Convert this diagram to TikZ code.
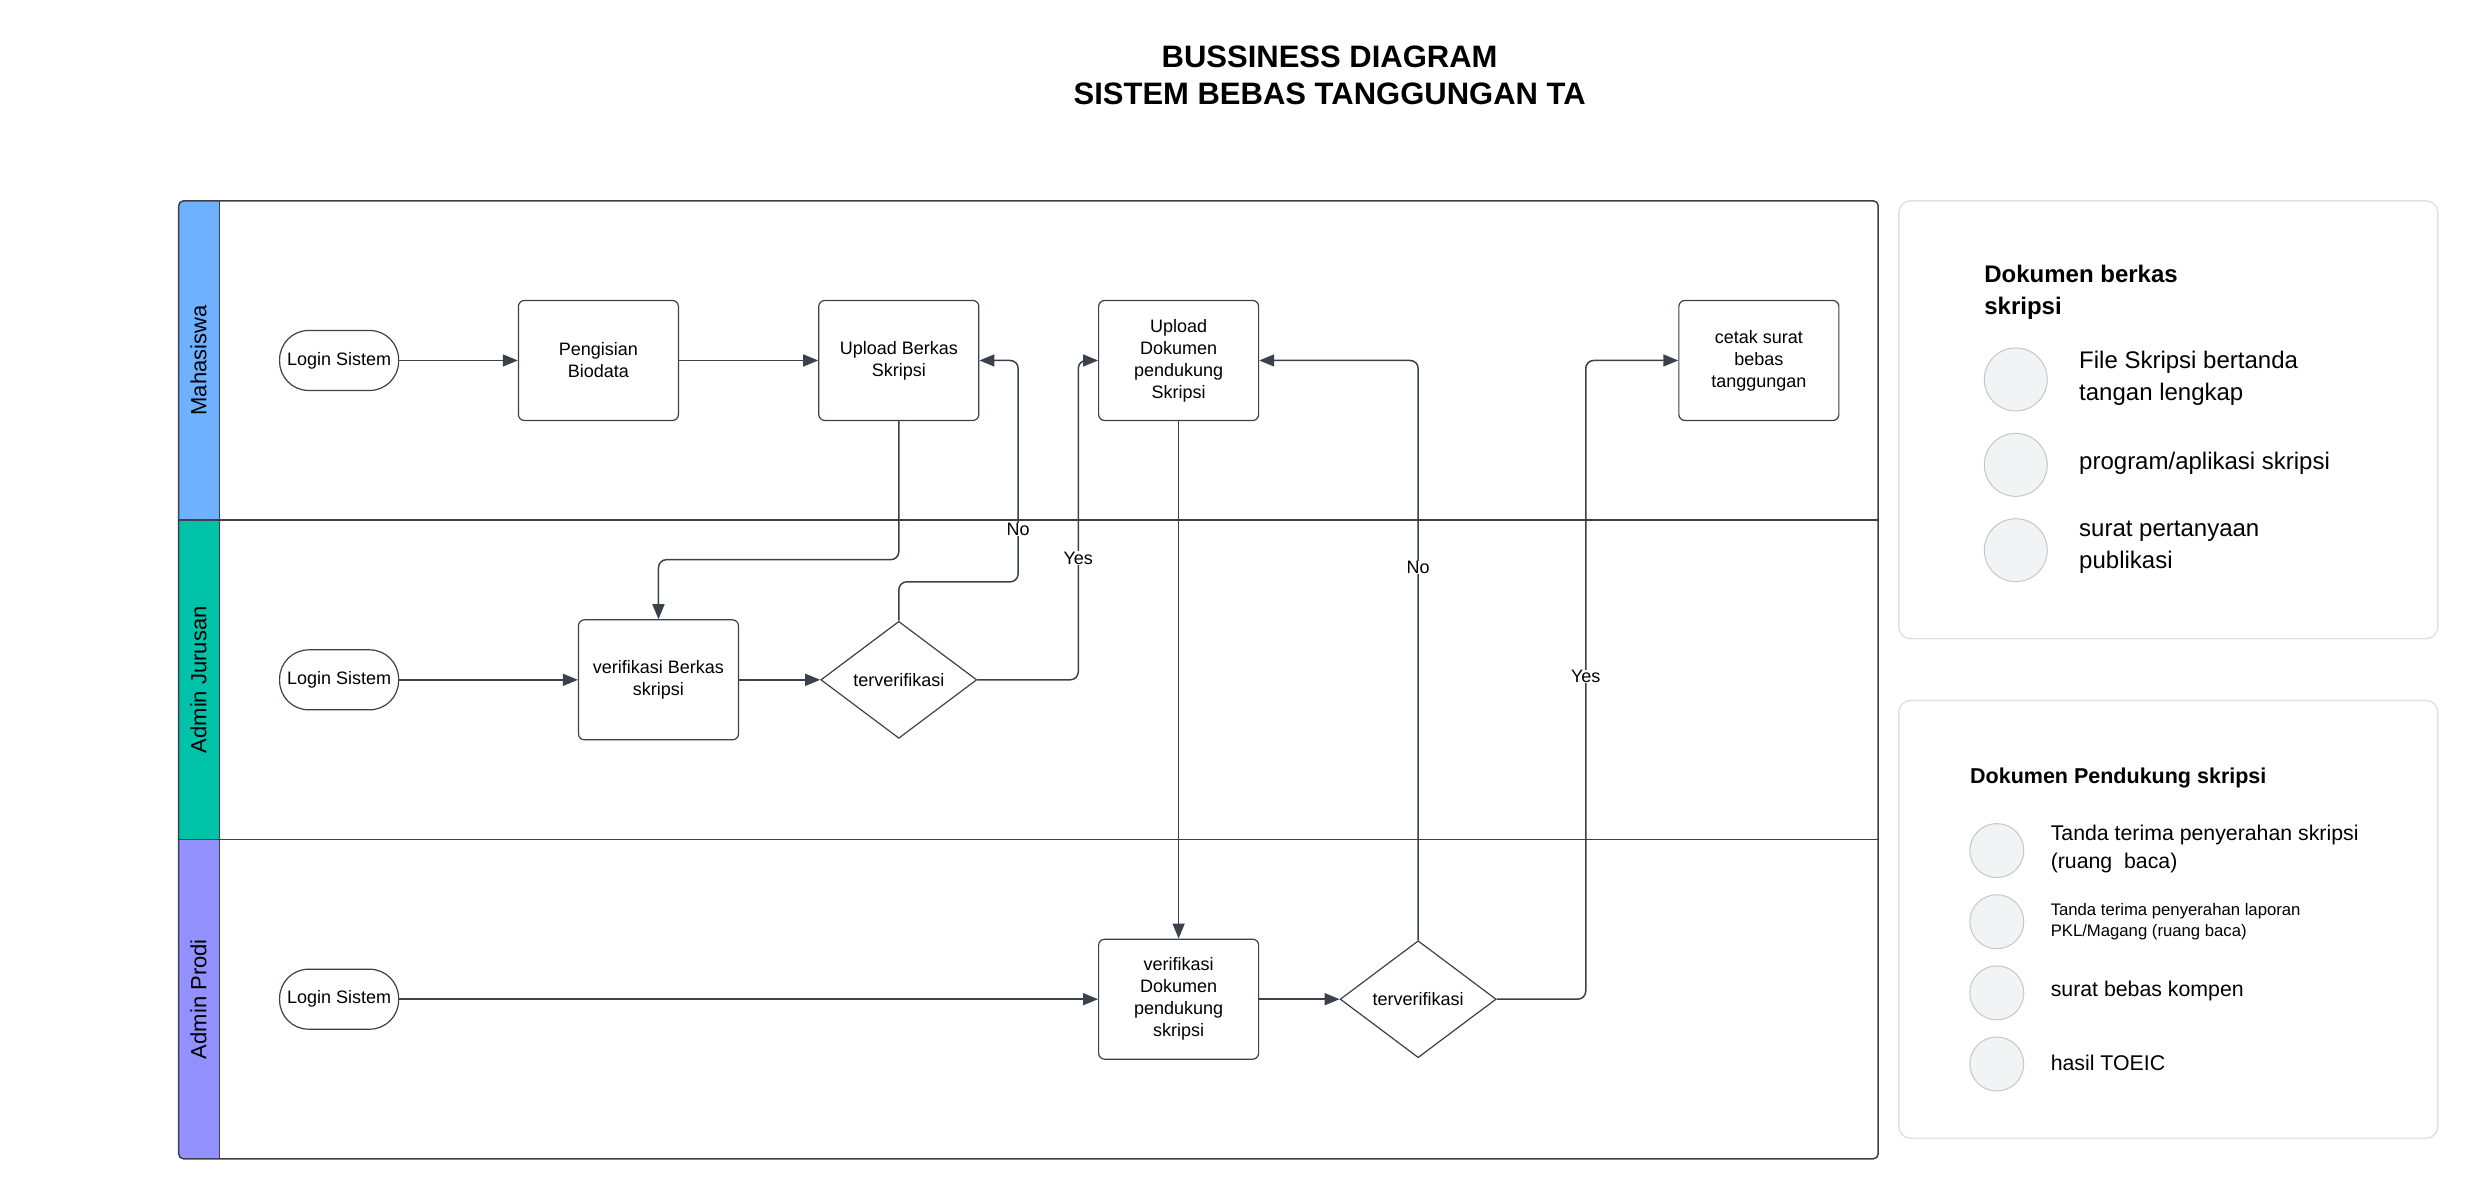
\documentclass[tikz,border=0pt]{standalone}
\usepackage{fontspec}
\setmainfont{Liberation Sans}
\usetikzlibrary{shapes.geometric,arrows.meta}

\definecolor{trait}{HTML}{3A414A}
\definecolor{bleu}{HTML}{6DB1FF}
\definecolor{vert}{HTML}{00C2A8}
\definecolor{violet}{HTML}{9391FF}
\definecolor{bord}{HTML}{DFE1E6}
\definecolor{rond}{HTML}{F2F3F5}
\definecolor{rondbord}{HTML}{C4C6CA}

\begin{document}
\begin{tikzpicture}[x=1.581pt, y=-1.581pt]
\tikzset{boite/.style={draw=trait, line width=1.2pt, rounded corners=6pt, minimum width=160pt, minimum height=120pt, align=center, font=\fontsize{18}{22}\selectfont},
  debut/.style={draw=trait, line width=1.2pt, rounded corners=29pt, minimum width=119pt, minimum height=60pt, font=\fontsize{18}{22}\selectfont},
  losange/.style={draw=trait, line width=1.2pt, diamond, aspect=1.34, inner sep=0pt, minimum width=156pt, minimum height=117pt, font=\fontsize{18}{22}\selectfont},
  fleche/.style={draw=trait, line width=1.5pt, rounded corners=8pt, -{Triangle[length=15pt, width=12pt]}},
  etiq/.style={fill=white, inner sep=0.5pt, font=\fontsize{18}{22}\selectfont},
  couloir/.style={rotate=90, font=\fontsize{22}{26}\selectfont},
  puce/.style={circle, draw=rondbord, fill=rond, line width=1pt},
  legende/.style={anchor=west, align=left, inner sep=0pt}}
\useasboundingbox (0,0) rectangle (1568,759);

% titre
\node[align=center, font=\bfseries\fontsize{31}{36.5}\selectfont] (titre) at (841,47.5) {BUSSINESS DIAGRAM\\SISTEM BEBAS TANGGUNGAN TA};

% couloirs
\begin{scope}
\clip[rounded corners=5pt] (113,127) rectangle (1188,733);
\fill[bleu] (113,127) rectangle (139,329);
\fill[vert] (113,329) rectangle (139,531);
\fill[violet] (113,531) rectangle (139,733);
\end{scope}
\draw[trait, line width=1.5pt, rounded corners=5pt] (113,127) rectangle (1188,733);
\draw[trait, line width=1.5pt] (113,329) -- (1188,329);
\draw[trait, line width=1.5pt] (113,531) -- (1188,531);
\draw[trait, line width=1.2pt] (139,127) -- (139,733);
\node[couloir] (C1) at (125.5,228) {Mahasiswa};
\node[couloir] (C2) at (125.5,430) {Admin Jurusan};
\node[couloir] (C3) at (125.5,632) {Admin Prodi};

% Mahasiswa
\node[debut] (M1) at (214.5,228) {Login Sistem};
\node[boite] (M2) at (378.5,228) {Pengisian\\Biodata};
\node[boite] (M3) at (568.5,228) {Upload Berkas\\Skripsi};
\node[boite] (M4) at (745.5,228) {Upload\\Dokumen\\pendukung\\Skripsi};
\node[boite] (M5) at (1112.5,228) {cetak surat\\bebas\\tanggungan};

% Admin Jurusan
\node[debut] (J1) at (214.5,430) {Login Sistem};
\node[boite] (J2) at (416.5,430) {verifikasi Berkas\\skripsi};
\node[losange] (J3) at (568.5,430) {terverifikasi};

% Admin Prodi
\node[debut] (P1) at (214.5,632) {Login Sistem};
\node[boite] (P2) at (745.5,632) {verifikasi\\Dokumen\\pendukung\\skripsi};
\node[losange] (P3) at (897,632) {terverifikasi};

% fleches
\draw[fleche] (M1) -- (M2);
\draw[fleche] (M2) -- (M3);
\draw[fleche] (M3.south) -- (M3.south |- 0,354) -| (J2.north);
\draw[fleche] (J1) -- (J2);
\draw[fleche] (J2) -- (J3);
\draw[fleche] (J3.north) -- (J3.north |- 0,368) -| (644,228) -- (M3.east);
\draw[fleche] (J3.east) -| (682,228) -- (M4.west);
\draw[fleche] (M4.south) -- (P2.north);
\draw[fleche] (P1) -- (P2);
\draw[fleche] (P2) -- (P3);
\draw[fleche] (P3.north) |- (M4.east);
\draw[fleche] (P3.east) -| (1003,228) -- (M5.west);
\node[etiq] (no1) at (644,335) {No};
\node[etiq] (yes1) at (682,353) {Yes};
\node[etiq] (no2) at (897,359) {No};
\node[etiq] (yes2) at (1003,428) {Yes};

% Dokumen berkas skripsi
\draw[bord, line width=1.5pt, rounded corners=12pt] (1201,127) rectangle (1542,404);
\node[legende, font=\bfseries\fontsize{24}{32}\selectfont] (D1) at (1255,185) {Dokumen berkas\\skripsi};
\node[puce, minimum size=63pt] (R1) at (1275,240) {};
\node[puce, minimum size=63pt] (R2) at (1275,294) {};
\node[puce, minimum size=63pt] (R3) at (1275,348) {};
\node[legende, font=\fontsize{24}{32}\selectfont] (T1) at (1315,239) {File Skripsi bertanda\\tangan lengkap};
\node[legende, font=\fontsize{24}{32}\selectfont] (T2) at (1315,293) {program/aplikasi skripsi};
\node[legende, font=\fontsize{24}{32}\selectfont] (T3) at (1315,346) {surat pertanyaan\\publikasi};

% Dokumen Pendukung skripsi
\draw[bord, line width=1.5pt, rounded corners=12pt] (1201,443) rectangle (1542,720);
\node[legende, font=\bfseries\fontsize{21.5}{26}\selectfont] (D2) at (1246,492) {Dokumen Pendukung skripsi};
\node[puce, minimum size=54pt] (R4) at (1263,538) {};
\node[puce, minimum size=54pt] (R5) at (1263,583) {};
\node[puce, minimum size=54pt] (R6) at (1263,628) {};
\node[puce, minimum size=54pt] (R7) at (1263,673) {};
\node[legende, font=\fontsize{21.3}{28.6}\selectfont] (T4) at (1297,537) {Tanda terima penyerahan skripsi\\(ruang\ \ baca)};
\node[legende, font=\fontsize{16.7}{20.7}\selectfont] (T5) at (1297,583) {Tanda terima penyerahan laporan\\PKL/Magang (ruang baca)};
\node[legende, font=\fontsize{21.3}{28.6}\selectfont] (T6) at (1297,627) {surat bebas kompen};
\node[legende, font=\fontsize{21.3}{28.6}\selectfont] (T7) at (1297,672) {hasil TOEIC};
\end{tikzpicture}
\end{document}
